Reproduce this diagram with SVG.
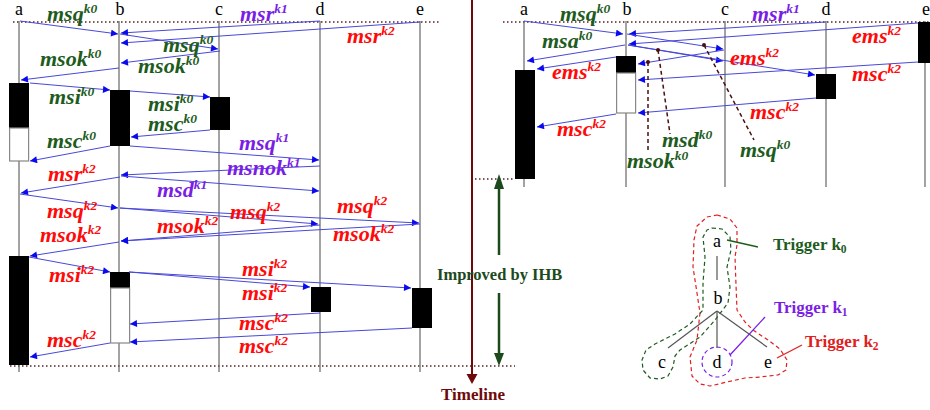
<svg xmlns="http://www.w3.org/2000/svg" width="930" height="410" viewBox="0 0 930 410">
<style>
.ll{stroke:#666;stroke-width:1.2}
.dot{stroke:#5a2020;stroke-width:1.5;stroke-dasharray:1.5 2.5;fill:none}
.msg{stroke:#4848d8;stroke-width:1;fill:none;marker-end:url(#ah)}
.lbl{font-family:"Liberation Serif","Times New Roman",serif;font-weight:bold;font-style:italic;font-size:22px}
.sup{font-size:13.5px}
.g{fill:#1d5c1d}
.r{fill:#ff0a0a}
.p{fill:#7a1ee6}
.col{font-family:"Liberation Serif","Times New Roman",serif;font-size:18px;fill:#000;text-anchor:middle}
.blk{fill:#000}
.wht{fill:#fff;stroke:#888;stroke-width:1.2}
.ann{stroke:#4a1010;stroke-width:1.5;stroke-dasharray:4 3;fill:none}
.tree{stroke:#555;stroke-width:1.2;fill:none}
.trig{font-family:"Liberation Serif","Times New Roman",serif;font-weight:bold;font-size:17px}
.sub{font-size:11.5px}
</style>
<defs>
<marker id="ah" viewBox="0 0 10 10" refX="10" refY="5" markerWidth="9" markerHeight="7" markerUnits="userSpaceOnUse" orient="auto">
<path d="M0,0 L10,5 L0,10 z" fill="#0a0aee"/>
</marker>
</defs>

<!-- frame lines -->
<g id="frame">
<line class="dot" x1="13" y1="22" x2="440" y2="22"/>
<line class="dot" x1="503" y1="22" x2="930" y2="22"/>
<line class="dot" x1="10" y1="366" x2="515" y2="366"/>
<line class="dot" x1="475" y1="179" x2="515" y2="179"/>
</g>

<!-- left lifelines -->
<g id="L-a"><text class="col" x="19" y="15">a</text><line class="ll" x1="19" y1="21" x2="19" y2="372"/>
<rect class="blk" x="9" y="83" width="20" height="45"/><rect class="wht" x="9.6" y="128" width="19" height="33"/>
<rect class="blk" x="9" y="256" width="20" height="109"/></g>
<g id="L-b"><text class="col" x="120" y="15">b</text><line class="ll" x1="119" y1="21" x2="119" y2="372"/>
<rect class="blk" x="110" y="90" width="20" height="56"/>
<rect class="blk" x="110" y="272" width="20" height="16"/><rect class="wht" x="110.6" y="288" width="19" height="55"/></g>
<g id="L-c"><text class="col" x="219" y="15">c</text><line class="ll" x1="219" y1="21" x2="219" y2="372"/>
<rect class="blk" x="210" y="97" width="20" height="33"/></g>
<g id="L-d"><text class="col" x="320" y="15">d</text><line class="ll" x1="320" y1="21" x2="320" y2="372"/>
<rect class="blk" x="311" y="287" width="20" height="25"/></g>
<g id="L-e"><text class="col" x="420" y="15">e</text><line class="ll" x1="420" y1="21" x2="420" y2="372"/>
<rect class="blk" x="412" y="288" width="20" height="40"/></g>

<!-- right lifelines -->
<g id="R-a"><text class="col" x="524" y="15">a</text><line class="ll" x1="524" y1="21" x2="524" y2="187"/>
<rect class="blk" x="515" y="70" width="20" height="109"/></g>
<g id="R-b"><text class="col" x="627" y="15">b</text><line class="ll" x1="626" y1="21" x2="626" y2="187"/>
<rect class="blk" x="616" y="56" width="20" height="17"/><rect class="wht" x="616.6" y="73" width="19" height="40"/></g>
<g id="R-c"><text class="col" x="725" y="15">c</text><line class="ll" x1="725" y1="21" x2="725" y2="187"/></g>
<g id="R-d"><text class="col" x="826" y="15">d</text><line class="ll" x1="826" y1="21" x2="826" y2="187"/>
<rect class="blk" x="816" y="74" width="20" height="25"/></g>
<g id="R-e"><text class="col" x="926" y="15">e</text><line class="ll" x1="925" y1="21" x2="925" y2="187"/>
<rect class="blk" x="918" y="22" width="14" height="41"/></g>

<!-- connectors -->
<g id="connectors">
<path class="msg" d="M20,21 L118,34"/>
<path class="msg" d="M320,21 L121,33"/>
<path class="msg" d="M420,22 L121,43"/>
<path class="msg" d="M120,34 L218,49"/>
<path class="msg" d="M220,51 L121,63"/>
<path class="msg" d="M119,68 L21,80"/>
<path class="msg" d="M30,83 L110,90"/>
<path class="msg" d="M130,91 L210,97"/>
<path class="msg" d="M210,130 L131,137"/>
<path class="msg" d="M110,146 L30,161"/>
<path class="msg" d="M130,146 L319,160"/>
<path class="msg" d="M320,166 L121,175"/>
<path class="msg" d="M121,176 L319,191"/>
<path class="msg" d="M120,177 L21,193"/>
<path class="msg" d="M20,194 L118,208"/>
<path class="msg" d="M120,208 L318,224"/>
<path class="msg" d="M120,208 L419,223"/>
<path class="msg" d="M320,225 L121,241"/>
<path class="msg" d="M420,224 L121,241"/>
<path class="msg" d="M119,242 L30,256"/>
<path class="msg" d="M29,257 L110,272"/>
<path class="msg" d="M129,272 L310,287"/>
<path class="msg" d="M129,272 L411,288"/>
<path class="msg" d="M320,313 L130,324"/>
<path class="msg" d="M412,328 L130,342"/>
<path class="msg" d="M110,343 L30,357"/>

<path class="msg" d="M524,21 L623,34"/>
<path class="msg" d="M826,22 L629,34"/>
<path class="msg" d="M918,23 L629,44"/>
<path class="msg" d="M627,34 L723,49"/>
<path class="msg" d="M625,45 L527,61"/>
<path class="msg" d="M628,45 L723,61"/>
<path class="msg" d="M628,45 L815,75"/>
<path class="msg" d="M616,57 L537,69"/>
<path class="msg" d="M724,50 L638,64"/>
<path class="msg" d="M918,62 L638,80"/>
<path class="msg" d="M816,98 L638,113"/>
<path class="msg" d="M616,114 L537,127"/>

<path class="ann" d="M648,62 L648,150"/><circle cx="648" cy="62" r="2" fill="#4a1010"/>
<path class="ann" d="M658,50 L670,134"/><circle cx="658" cy="50" r="2" fill="#4a1010"/>
<path class="ann" d="M704,45 L754,140"/><circle cx="704" cy="45" r="2" fill="#4a1010"/>
</g>

<!-- left labels -->
<g id="labels-left" class="lbl">
<text class="g" x="47" y="21">msq<tspan class="sup" dy="-8.5">k0</tspan></text>
<text class="p" x="240" y="21">msr<tspan class="sup" dy="-8.5">k1</tspan></text>
<text class="r" x="347" y="43">msr<tspan class="sup" dy="-8.5">k2</tspan></text>
<text class="g" x="163" y="52">msq<tspan class="sup" dy="-8.5">k0</tspan></text>
<text class="g" x="40" y="66">msok<tspan class="sup" dy="-8.5">k0</tspan></text>
<text class="g" x="138" y="73">msok<tspan class="sup" dy="-8.5">k0</tspan></text>
<text class="g" x="49" y="104">msi<tspan class="sup" dy="-8.5">k0</tspan></text>
<text class="g" x="148" y="111">msi<tspan class="sup" dy="-8.5">k0</tspan></text>
<text class="g" x="148" y="131">msc<tspan class="sup" dy="-8.5">k0</tspan></text>
<text class="g" x="47" y="148">msc<tspan class="sup" dy="-8.5">k0</tspan></text>
<text class="p" x="239" y="150">msq<tspan class="sup" dy="-8.5">k1</tspan></text>
<text class="p" x="227" y="175">msnok<tspan class="sup" dy="-8.5">k1</tspan></text>
<text class="r" x="48" y="181">msr<tspan class="sup" dy="-8.5">k2</tspan></text>
<text class="p" x="157" y="197">msd<tspan class="sup" dy="-8.5">k1</tspan></text>
<text class="r" x="337" y="213">msq<tspan class="sup" dy="-8.5">k2</tspan></text>
<text class="r" x="47" y="218">msq<tspan class="sup" dy="-8.5">k2</tspan></text>
<text class="r" x="230" y="219">msq<tspan class="sup" dy="-8.5">k2</tspan></text>
<text class="r" x="157" y="233">msok<tspan class="sup" dy="-8.5">k2</tspan></text>
<text class="r" x="333" y="241">msok<tspan class="sup" dy="-8.5">k2</tspan></text>
<text class="r" x="40" y="242">msok<tspan class="sup" dy="-8.5">k2</tspan></text>
<text class="r" x="242" y="276">msi<tspan class="sup" dy="-8.5">k2</tspan></text>
<text class="r" x="49" y="282">msi<tspan class="sup" dy="-8.5">k2</tspan></text>
<text class="r" x="242" y="300">msi<tspan class="sup" dy="-8.5">k2</tspan></text>
<text class="r" x="239" y="330">msc<tspan class="sup" dy="-8.5">k2</tspan></text>
<text class="r" x="47" y="347">msc<tspan class="sup" dy="-8.5">k2</tspan></text>
<text class="r" x="239" y="353">msc<tspan class="sup" dy="-8.5">k2</tspan></text>
</g>

<!-- right labels -->
<g id="labels-right" class="lbl">
<text class="g" x="560" y="21">msq<tspan class="sup" dy="-8.5">k0</tspan></text>
<text class="p" x="752" y="21">msr<tspan class="sup" dy="-8.5">k1</tspan></text>
<text class="g" x="542" y="48">msa<tspan class="sup" dy="-8.5">k0</tspan></text>
<text class="r" x="552" y="79">ems<tspan class="sup" dy="-8.5">k2</tspan></text>
<text class="r" x="557" y="136">msc<tspan class="sup" dy="-8.5">k2</tspan></text>
<text class="r" x="730" y="65">ems<tspan class="sup" dy="-8.5">k2</tspan></text>
<text class="r" x="852" y="43">ems<tspan class="sup" dy="-8.5">k2</tspan></text>
<text class="r" x="852" y="81">msc<tspan class="sup" dy="-8.5">k2</tspan></text>
<text class="r" x="750" y="119">msc<tspan class="sup" dy="-8.5">k2</tspan></text>
<text class="g" x="662" y="147">msd<tspan class="sup" dy="-8.5">k0</tspan></text>
<text class="g" x="627" y="168">msok<tspan class="sup" dy="-8.5">k0</tspan></text>
<text class="g" x="740" y="157">msq<tspan class="sup" dy="-8.5">k0</tspan></text>
</g>

<!-- timeline -->
<g id="timeline">
<line x1="472" y1="0" x2="472" y2="376" stroke="#6e0a0a" stroke-width="2"/>
<path d="M466.5,374 L477.5,374 L472,384 z" fill="#6e0a0a"/>
<text x="473" y="400" text-anchor="middle" font-family="Liberation Serif, Times New Roman, serif" font-weight="bold" font-size="17" fill="#6e0a0a">Timeline</text>
</g>

<!-- improved by IHB -->
<g id="improved">
<line x1="499" y1="186" x2="499" y2="255" stroke="#1c4a1c" stroke-width="2.5"/>
<path d="M494,189 L504,189 L499,174 z" fill="#1c4a1c"/>
<line x1="499" y1="293" x2="499" y2="356" stroke="#1c4a1c" stroke-width="2.5"/>
<path d="M494,353 L504,353 L499,366 z" fill="#1c4a1c"/>
<text x="437" y="280" font-family="Liberation Serif, Times New Roman, serif" font-weight="bold" font-size="16.5" fill="#1c4a1c">Improved by IHB</text>
</g>

<!-- tree -->
<g id="tree">
<path d="M717,215 L730,219 L737,228 L737,245 L735,257 L736,285 L737,310 L745,322 L753,330 L768,340 L780,349 L787,360 L786,370 L778,375 L760,377 L745,378 L727,382 L710,386 L700,384 L692,376 L690,357 L697,340 L700,313 L697,293 L693,267 L694,240 L697,226 L707,217 Z" fill="none" stroke="#e02020" stroke-width="1.2" stroke-dasharray="4 3" stroke-linejoin="round"/>
<path d="M712,228 L722,229 L730,237 L731,250 L727,267 L730,287 L728,303 L715,320 L700,337 L680,350 L675,356 L673,367 L668,376 L660,379 L650,378 L643,370 L642,360 L646,350 L655,344 L675,334 L690,324 L703,310 L703,295 L703,283 L705,257 L703,237 L707,230 Z" fill="none" stroke="#1d5c1d" stroke-width="1.2" stroke-dasharray="4 3" stroke-linejoin="round"/>
<circle cx="717" cy="362" r="15" fill="none" stroke="#7a1ee6" stroke-width="1.2" stroke-dasharray="4 3"/>
<line class="tree" x1="717" y1="256" x2="717" y2="280"/>
<line class="tree" x1="717" y1="311" x2="668" y2="348"/>
<line class="tree" x1="717" y1="311" x2="717" y2="348"/>
<line class="tree" x1="717" y1="311" x2="767" y2="347"/>
<text class="col" x="717" y="247" font-size="20">a</text>
<text class="col" x="718" y="304" font-size="20">b</text>
<text class="col" x="662" y="368" font-size="20">c</text>
<text class="col" x="717" y="368" font-size="20">d</text>
<text class="col" x="768" y="368" font-size="20">e</text>
<line x1="727" y1="240" x2="758" y2="247" stroke="#1d5c1d" stroke-width="1.3"/>
<line x1="765" y1="317" x2="730" y2="355" stroke="#7a1ee6" stroke-width="1.3"/>
<line x1="802" y1="345" x2="777" y2="358" stroke="#e02020" stroke-width="1.3"/>
<text class="trig" x="773" y="250" fill="#1d5c1d">Trigger k<tspan class="sub" dy="3">0</tspan></text>
<text class="trig" x="774" y="313" fill="#7a1ee6">Trigger k<tspan class="sub" dy="3">1</tspan></text>
<text class="trig" x="805" y="347" fill="#e02020">Trigger k<tspan class="sub" dy="3">2</tspan></text>
</g>
</svg>
